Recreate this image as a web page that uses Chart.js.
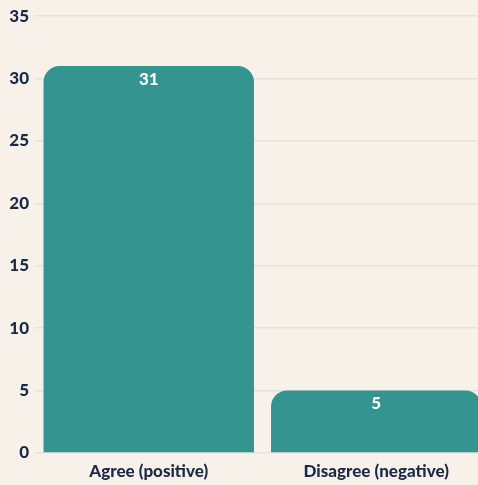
<!DOCTYPE html>
<html>
<head>
<meta charset="utf-8">
<script src="https://cdn.jsdelivr.net/npm/chart.js@4"></script>
<style>
    html, body { margin: 0; padding: 0; background: #f8f1ea; overflow: hidden; }
    #wrap { width: 490px; height: 485px; }
</style>
</head>
<body>
<div id="wrap"><canvas id="chart" width="490" height="485"></canvas></div>
<script>
const categories = ["Agree (positive)", "Disagree (negative)"];
const counts = [31, 5];
const yTicks = [0, 5, 10, 15, 20, 25, 30, 35];

const textColor = "#1b2a47";
const barColor = "#339490";

// draws the count inside the top of each bar
const valueLabels = {
    id: "valueLabels",
    afterDatasetsDraw(chart) {
        const ctx = chart.ctx;
        const meta = chart.getDatasetMeta(0);
        ctx.save();
        ctx.fillStyle = "#ffffff";
        ctx.font = "900 17px Lato";
        ctx.textAlign = "center";
        ctx.textBaseline = "middle";
        meta.data.forEach((bar, i) => {
            ctx.fillText(String(counts[i]), bar.x, bar.y + 13);
        });
        ctx.restore();
    },
};

new Chart(document.getElementById("chart"), {
    type: "bar",
    data: {
        labels: categories,
        datasets: [
            {
                data: counts,
                backgroundColor: barColor,
                borderRadius: { topLeft: 16, topRight: 16 },
                borderSkipped: "bottom",
                barPercentage: 1,
                categoryPercentage: 0.925,
            },
        ],
    },
    options: {
        responsive: false,
        animation: false,
        layout: { padding: { top: 8, right: 0, left: 0, bottom: 0 } },
        plugins: {
            legend: { display: false },
            tooltip: { enabled: false },
        },
        scales: {
            x: {
                grid: { display: false },
                border: { display: false },
                afterFit(axis) {
                    axis.height = 32;
                },
                ticks: {
                    color: textColor,
                    font: { family: "Lato", size: 17, weight: "900" },
                    padding: 0,
                },
            },
            y: {
                min: 0,
                max: 35,
                afterBuildTicks(axis) {
                    axis.ticks = yTicks.map((v) => ({ value: v }));
                },
                afterFit(axis) {
                    axis.width = 35;
                },
                grid: { color: "#e7e2da", lineWidth: 1.5, drawTicks: false },
                border: { display: false },
                ticks: {
                    color: textColor,
                    font: { family: "Lato", size: 17, weight: "900" },
                    padding: 6,
                },
            },
        },
    },
    plugins: [valueLabels],
});
</script>
</body>
</html>
